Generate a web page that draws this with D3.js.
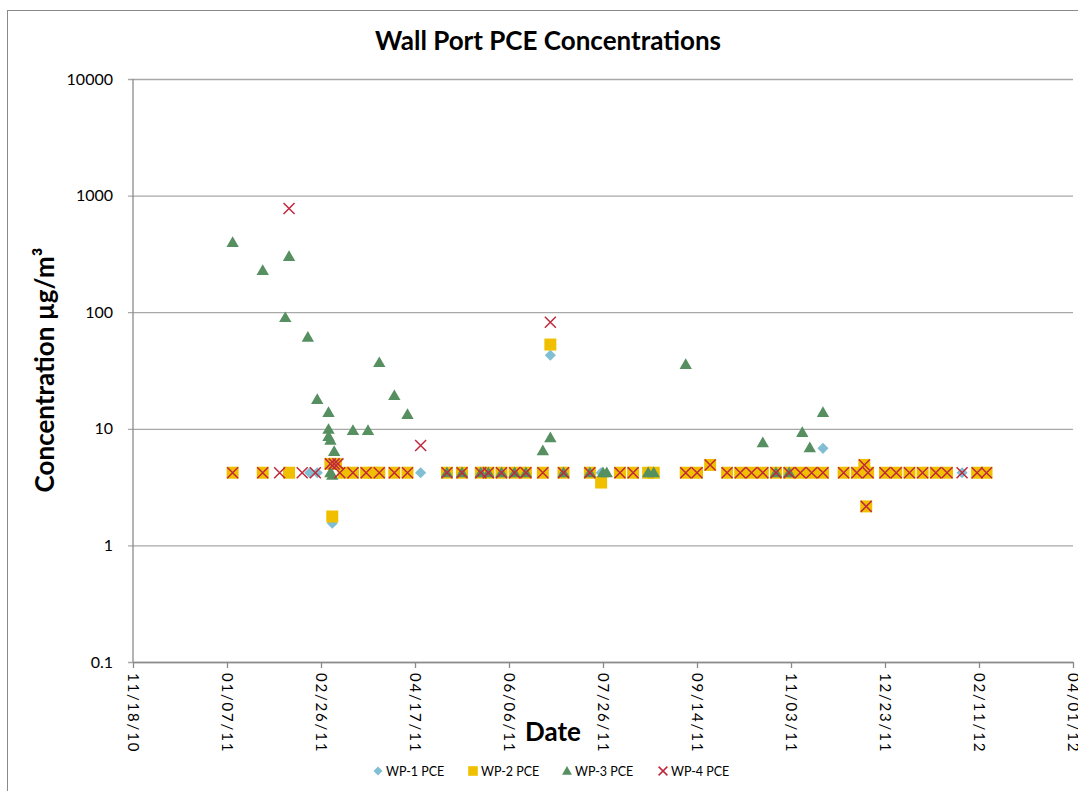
<!DOCTYPE html>
<html>
<head>
<meta charset="utf-8">
<script src="https://cdn.jsdelivr.net/npm/d3@7"></script>
<style>
  html, body { margin: 0; padding: 0; background: #fff; }
  svg { display: block; font-family: Lato, "Open Sans", sans-serif; }
</style>
</head>
<body>
<svg id="chart" width="1078" height="791"></svg>
<script>
// ---------- DATA ----------
const title = "Wall Port PCE Concentrations";
const yLabel = "Concentration µg/m³";
const xLabel = "Date";
const xTickLabels = ["11/18/10","01/07/11","02/26/11","04/17/11","06/06/11","07/26/11","09/14/11","11/03/11","12/23/11","02/11/12","04/01/12"];
const yTickValues = [0.1, 1, 10, 100, 1000, 10000];
const seriesNames = ["WP-1 PCE", "WP-2 PCE", "WP-3 PCE", "WP-4 PCE"];

const wp1Dates = ["2011-02-20","2011-02-24","2011-03-04","2011-04-20","2011-06-28","2011-07-25","2011-11-20","2012-02-02"];
const wp1Values = [4.2, 4.2, 1.55, 4.2, 42.7, 4.2, 6.8, 4.2];

const wp2Dates = ["2011-01-10","2011-01-26","2011-02-09","2011-03-03","2011-03-06","2011-03-04","2011-03-10","2011-03-15","2011-03-22","2011-03-26","2011-03-29","2011-04-06","2011-04-13",
  "2011-05-04","2011-05-12","2011-05-22","2011-05-26","2011-06-02","2011-06-09","2011-06-15","2011-06-24","2011-06-28","2011-07-05","2011-07-19","2011-07-25",
  "2011-08-04","2011-08-11","2011-08-19","2011-08-22","2011-09-08","2011-09-14","2011-09-21","2011-09-30","2011-10-07","2011-10-13","2011-10-19","2011-10-26",
  "2011-11-02","2011-11-08","2011-11-14","2011-11-20","2011-12-01","2011-12-08","2011-12-12","2011-12-13","2011-12-14","2011-12-23","2011-12-29",
  "2012-01-05","2012-01-12","2012-01-19","2012-01-25","2012-02-10","2012-02-15"];
const wp2Values = [4.2, 4.2, 4.2, 5.0, 5.0, 1.77, 4.2, 4.2, 4.2, 4.2, 4.2, 4.2, 4.2,
  4.2, 4.2, 4.2, 4.2, 4.2, 4.2, 4.2, 4.2, 52.8, 4.2, 4.2, 3.46,
  4.2, 4.2, 4.2, 4.2, 4.2, 4.2, 4.9, 4.2, 4.2, 4.2, 4.2, 4.2,
  4.2, 4.2, 4.2, 4.2, 4.2, 4.2, 4.9, 2.16, 4.2, 4.2, 4.2,
  4.2, 4.2, 4.2, 4.2, 4.2, 4.2];

const wp3Dates = ["2011-01-10","2011-01-26","2011-02-07","2011-02-09","2011-02-19","2011-02-24","2011-03-02","2011-03-02","2011-03-02","2011-03-03","2011-03-05","2011-03-03","2011-03-04",
  "2011-03-15","2011-03-23","2011-03-29","2011-04-06","2011-04-13","2011-05-04","2011-05-12","2011-05-22","2011-05-26","2011-06-02","2011-06-09","2011-06-15",
  "2011-06-24","2011-06-28","2011-07-05","2011-07-19","2011-07-26","2011-07-28","2011-08-19","2011-08-22","2011-09-08","2011-10-19","2011-10-26","2011-11-02",
  "2011-11-09","2011-11-13","2011-11-20"];
const wp3Values = [397, 228, 90, 301, 61, 17.9, 13.8, 9.9, 8.6, 8.0, 6.4, 4.2, 4.0,
  9.7, 9.7, 37, 19.3, 13.3, 4.2, 4.2, 4.2, 4.2, 4.2, 4.2, 4.2,
  6.5, 8.4, 4.2, 4.2, 4.2, 4.2, 4.2, 4.2, 35.6, 7.6, 4.2, 4.2,
  9.3, 6.9, 13.8];

const wp4Dates = ["2011-01-10","2011-01-26","2011-02-04","2011-02-09","2011-02-16","2011-02-23","2011-03-03","2011-03-05","2011-03-07","2011-03-08","2011-03-15","2011-03-22","2011-03-29","2011-04-06","2011-04-13","2011-04-20",
  "2011-05-04","2011-05-12","2011-05-22","2011-05-26","2011-06-02","2011-06-09","2011-06-15","2011-06-24","2011-06-28","2011-07-05","2011-07-19","2011-08-04","2011-08-11",
  "2011-09-08","2011-09-14","2011-09-21","2011-09-30","2011-10-07","2011-10-13","2011-10-19","2011-10-26","2011-11-02","2011-11-08","2011-11-14","2011-11-20",
  "2011-12-01","2011-12-08","2011-12-12","2011-12-13","2011-12-14","2011-12-23","2011-12-29","2012-01-05","2012-01-12","2012-01-19","2012-01-25","2012-02-02","2012-02-10","2012-02-15"];
const wp4Values = [4.2, 4.2, 4.2, 776, 4.2, 4.2, 5.0, 5.0, 5.0, 4.2, 4.2, 4.2, 4.2, 4.2, 4.2, 7.2,
  4.2, 4.2, 4.2, 4.2, 4.2, 4.2, 4.2, 4.2, 82, 4.2, 4.2, 4.2, 4.2,
  4.2, 4.2, 4.9, 4.2, 4.2, 4.2, 4.2, 4.2, 4.2, 4.2, 4.2, 4.2,
  4.2, 4.2, 4.9, 2.16, 4.2, 4.2, 4.2, 4.2, 4.2, 4.2, 4.2, 4.2, 4.2, 4.2];

// ---------- LAYOUT ----------
const W = 1078, H = 791;
const plot = { left: 133, right: 1073, top: 79, bottom: 662 };
const colors = ["#7FBED3", "#F0C000", "#568F60", "#C0283C"];

const parseIso = d3.utcParse("%Y-%m-%d");
const parseTick = d3.utcParse("%m/%d/%y");
const fmtTick = d3.utcFormat("%m/%d/%y");
const tickDates = xTickLabels.map(parseTick);

const x = d3.scaleUtc().domain([tickDates[0], tickDates[tickDates.length - 1]]).range([plot.left, plot.right]);
const y = d3.scaleLog().domain([0.1, 10000]).range([plot.bottom, plot.top]);

const svg = d3.select("#chart");

// outer chart border
svg.append("rect").attr("x", 7.5).attr("y", 10.5).attr("width", W).attr("height", H)
  .attr("fill", "none").attr("stroke", "#8a8a8a").attr("stroke-width", 1);

// title
svg.append("text").attr("x", 548).attr("y", 50).attr("text-anchor", "middle")
  .attr("font-size", 26).attr("font-weight", "bold").attr("fill", "#000").text(title);

// y gridlines + labels
const yAxis = svg.append("g").attr("transform", `translate(${plot.left - 5},0)`)
  .call(d3.axisLeft(y).tickValues(yTickValues).tickSizeInner(-(plot.right - plot.left + 5)).tickSizeOuter(0).tickPadding(15)
    .tickFormat(d => d < 1 ? d3.format(".1f")(d) : d3.format("d")(d)));
yAxis.select(".domain").remove();
yAxis.selectAll(".tick line").attr("stroke", "#a8a8a8").attr("stroke-width", 1.3);
yAxis.selectAll(".tick text").attr("font-size", 16).attr("fill", "#000").attr("font-family", "Lato, sans-serif");

// y axis line
svg.append("line").attr("x1", plot.left).attr("x2", plot.left).attr("y1", plot.top).attr("y2", plot.bottom)
  .attr("stroke", "#8a8a8a").attr("stroke-width", 1.3);

// x axis
const xAxis = svg.append("g").attr("transform", `translate(0,${plot.bottom})`)
  .call(d3.axisBottom(x).tickValues(tickDates).tickSizeInner(6).tickSizeOuter(0).tickFormat(fmtTick));
xAxis.select(".domain").attr("stroke", "#8a8a8a").attr("stroke-width", 1.3);
xAxis.selectAll(".tick line").attr("stroke", "#8a8a8a").attr("stroke-width", 1.3);
xAxis.selectAll(".tick text")
  .attr("font-size", 15).attr("fill", "#000").attr("font-family", "Lato, sans-serif")
  .attr("letter-spacing", "1.8px")
  .attr("text-anchor", "start")
  .attr("transform", "rotate(90)")
  .attr("x", 11).attr("y", 0).attr("dy", "0.36em");

// axis titles
svg.append("text").attr("x", 553).attr("y", 741).attr("text-anchor", "middle")
  .attr("font-size", 26).attr("font-weight", "bold").attr("fill", "#000").text(xLabel);
svg.append("text").attr("transform", `translate(54,370) rotate(-90)`).attr("text-anchor", "middle")
  .attr("font-size", 26).attr("font-weight", "bold").attr("fill", "#000").text(yLabel);

// ---------- MARKERS ----------
const diamondPath = d3.symbol().type(d3.symbolSquare).size(62)();
const squarePath = d3.symbol().type(d3.symbolSquare).size(144)();
const trianglePath = d3.symbol().type(d3.symbolTriangle).size(66)();
const xr = 5.5;
const crossPath = `M${-xr},${-xr}L${xr},${xr}M${xr},${-xr}L${-xr},${xr}`;

function toPoints(dates, values) {
  return dates.map((d, i) => ({ date: parseIso(d), value: values[i] }));
}
const series = [
  { name: seriesNames[0], pts: toPoints(wp1Dates, wp1Values) },
  { name: seriesNames[1], pts: toPoints(wp2Dates, wp2Values) },
  { name: seriesNames[2], pts: toPoints(wp3Dates, wp3Values) },
  { name: seriesNames[3], pts: toPoints(wp4Dates, wp4Values) }
];

const marks = svg.append("g");
function drawMarker(sel, idx, scale) {
  if (idx === 0) sel.append("path").attr("d", diamondPath).attr("transform", `scale(${scale}) rotate(45)`).attr("fill", colors[0]);
  if (idx === 1) sel.append("path").attr("d", squarePath).attr("transform", `scale(${scale})`).attr("fill", colors[1]);
  if (idx === 2) sel.append("path").attr("d", trianglePath).attr("transform", `scale(${scale}) translate(0,1)`).attr("fill", colors[2]);
  if (idx === 3) sel.append("path").attr("d", crossPath).attr("transform", `scale(${scale})`).attr("fill", "none")
    .attr("stroke", colors[3]).attr("stroke-width", 1.5 / scale);
}
series.forEach((s, idx) => {
  const g = marks.append("g");
  s.pts.forEach(p => {
    const m = g.append("g").attr("transform", `translate(${x(p.date)},${y(p.value)})`);
    drawMarker(m, idx, 1);
  });
});

// ---------- LEGEND ----------
const legendX = [378, 473, 567, 663];
const legend = svg.append("g");
seriesNames.forEach((name, i) => {
  const g = legend.append("g").attr("transform", `translate(${legendX[i]},771)`);
  drawMarker(g, i, 0.8);
  g.append("text").attr("x", 8).attr("y", 4.5).attr("font-size", 12.5).attr("fill", "#000").text(name);
});
</script>
</body>
</html>
